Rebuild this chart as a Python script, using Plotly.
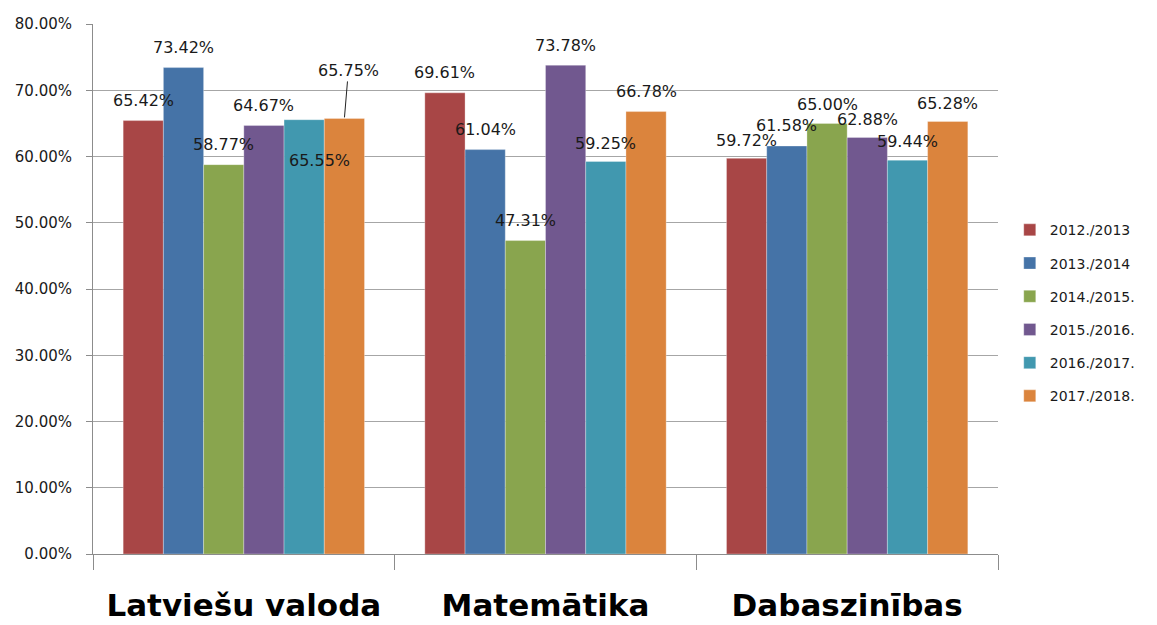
import plotly.graph_objects as go

categories = ["Latviešu valoda", "Matemātika", "Dabaszinības"]
series_names = ["2012./2013", "2013./2014", "2014./2015.", "2015./2016.", "2016./2017.", "2017./2018."]
v_2012 = [65.42, 69.61, 59.72]
v_2013 = [73.42, 61.04, 61.58]
v_2014 = [58.77, 47.31, 65.00]
v_2015 = [64.67, 73.78, 62.88]
v_2016 = [65.55, 59.25, 59.44]
v_2017 = [65.75, 66.78, 65.28]
series_values = [v_2012, v_2013, v_2014, v_2015, v_2016, v_2017]

colors = ["#A84646", "#4573A7", "#89A54E", "#71588F", "#4198AF", "#DB843D"]

# label offsets (pixels): dy above bar top, dx sideways, per series, per category
label_dy = [
    [20, 20, 18],
    [20, 20, 21],
    [20, 20, 19],
    [20, 20, 18],
    [-41, 18, 19],
    [None, 20, 18],
]
label_dx = [
    [0, 0, 0],
    [0, 0, 0],
    [0, 0, 0],
    [0, 0, 0],
    [15, 0, 0],
    [0, 0, 0],
]

n = len(series_names)
bargap = 0.2
group_w = 1 - bargap
bar_w = group_w / n

fig = go.Figure()
for i, (name, vals) in enumerate(zip(series_names, series_values)):
    fig.add_trace(go.Bar(
        name=name, x=categories, y=vals,
        marker=dict(color=colors[i], line=dict(color="rgba(255,255,255,0.5)", width=0.6)),
        legendgroup=name,
    ))

annotations = []
label_font = dict(family="DejaVu Sans", size=16, color="#1a1a1a")
for i, vals in enumerate(series_values):
    for c, v in enumerate(vals):
        xpos = c - group_w / 2 + bar_w * (i + 0.5)
        txt = f"{v:.2f}%"
        dy = label_dy[i][c]
        if dy is None:
            annotations.append(dict(
                x=xpos, y=v, xref="x", yref="y", text=txt, font=label_font,
                showarrow=True, arrowhead=0, arrowwidth=1, arrowcolor="#222",
                ax=4, ay=-48, standoff=1,
            ))
        else:
            annotations.append(dict(
                x=xpos, y=v, xref="x", yref="y", text=txt, font=label_font,
                showarrow=False, yanchor="middle", xanchor="center",
                xshift=label_dx[i][c], yshift=dy,
            ))

fig.update_layout(
    width=1149, height=617,
    margin=dict(l=85, r=159, t=16, b=71, autoexpand=False),
    paper_bgcolor="white", plot_bgcolor="white",
    barmode="group", bargap=bargap, bargroupgap=0,
    showlegend=True,
    legend=dict(
        x=1.013, y=0.641, xanchor="left", yanchor="top",
        font=dict(family="DejaVu Sans", size=14, color="#1a1a1a"),
        tracegroupgap=12, itemwidth=30,
    ),
    annotations=annotations,
)
fig.update_xaxes(
    type="category",
    showline=True, linecolor="#8c8c8c", linewidth=1,
    ticks="outside", tickson="boundaries", ticklen=15, tickcolor="#8c8c8c", tickwidth=1,
    tickfont=dict(family="DejaVu Sans", size=31, color="black", weight="bold"),
    ticklabelstandoff=24,
    showgrid=False, automargin=False,
)
fig.update_yaxes(
    range=[0, 80], dtick=10, tickformat=".2f", ticksuffix="%",
    showline=True, linecolor="#8c8c8c", linewidth=1,
    ticks="outside", ticklen=6, tickcolor="#8c8c8c",
    showgrid=True, gridcolor="#a6a6a6", gridwidth=1,
    tickfont=dict(family="DejaVu Sans", size=15, color="#1a1a1a"),
    ticklabelstandoff=11,
    zeroline=False, automargin=False,
)

fig.write_html("out.html")
